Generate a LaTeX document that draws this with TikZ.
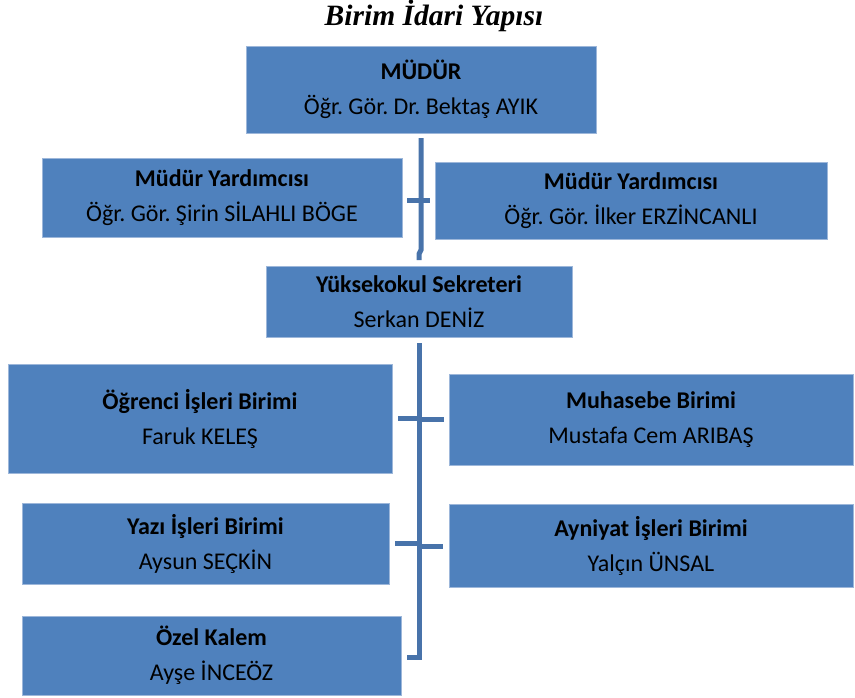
\documentclass[tikz,border=0pt]{standalone}
\usepackage{fontspec}
\setmainfont{Carlito}
\newfontfamily\titlefont{Liberation Serif}
\frenchspacing
\definecolor{boxfill}{HTML}{4F81BD}
\definecolor{boxedge}{HTML}{9DB7DA}
\definecolor{conncol}{HTML}{4873AA}
\tikzset{
  orgbox/.style={draw=boxedge, line width=0.8pt, fill=boxfill, inner sep=0pt, outer sep=0pt,
    align=center, font=\fontsize{24}{35}\selectfont, text=black},
  conn/.style={draw=conncol, line width=5pt}
}
\begin{document}
\begin{tikzpicture}[x=1pt,y=-1pt]
\useasboundingbox (0,0) rectangle (855,697);
\node[font=\titlefont\bfseries\itshape\fontsize{29.5}{32}\selectfont] (title) at (434,16) {Birim İdari Yapısı};

\node[orgbox, minimum width=350pt, minimum height=87pt] (mudur) at (421,89.5) {\textbf{MÜDÜR}\\Öğr. Gör. Dr. Bektaş AYIK};
\node[orgbox, minimum width=360pt, minimum height=79pt] (myl) at (222,197.5) {\textbf{Müdür Yardımcısı}\\Öğr. Gör. Şirin SİLAHLI BÖGE};
\node[orgbox, minimum width=392pt, minimum height=77pt] (myr) at (631,200.5) {\textbf{Müdür Yardımcısı}\\Öğr. Gör. İlker ERZİNCANLI};
\node[orgbox, minimum width=306pt, minimum height=71pt] (ys) at (419,301.5) {\textbf{Yüksekokul Sekreteri}\\Serkan DENİZ};
\node[orgbox, minimum width=384pt, minimum height=109pt] (ogr) at (200,418.5) {\textbf{Öğrenci İşleri Birimi}\\Faruk KELEŞ};
\node[orgbox, minimum width=404pt, minimum height=91pt] (muh) at (651,419.5) {\textbf{Muhasebe Birimi}\\Mustafa Cem ARIBAŞ};
\node[orgbox, minimum width=367pt, minimum height=81pt] (yazi) at (205.5,543.5) {\textbf{Yazı İşleri Birimi}\\Aysun SEÇKİN};
\node[orgbox, minimum width=404pt, minimum height=83pt] (ayn) at (651,545.5) {\textbf{Ayniyat İşleri Birimi}\\Yalçın ÜNSAL};
\node[orgbox, minimum width=379pt, minimum height=79pt] (ozel) at (211.5,655.5) {\textbf{Özel Kalem}\\Ayşe İNCEÖZ};

% upper connector
\coordinate (j1) at (421,200);
\draw[conn] ([yshift=-5pt]mudur.south) -- (421,250) -- (419,254) -- ([yshift=6pt]ys.north);
\draw[conn] ([xshift=5pt]myl.east |- j1) -- ([xshift=-5pt]myr.west |- j1);

% lower connector
\coordinate (bend) at (419,657);
\draw[conn, line join=miter] ([yshift=-6pt]ys.south) -- (bend) -- ([xshift=6pt]ozel.east |- bend);
\draw[conn] ([xshift=6pt]ogr.east |- 0,418) -- (419,418);
\draw[conn] (419,419.5) -- ([xshift=-5pt]muh.west |- 0,419.5);
\draw[conn] ([xshift=6pt]yazi.east |- 0,543) -- (419,543);
\draw[conn] (419,546) -- ([xshift=-6pt]ayn.west |- 0,546);
\end{tikzpicture}
\end{document}
